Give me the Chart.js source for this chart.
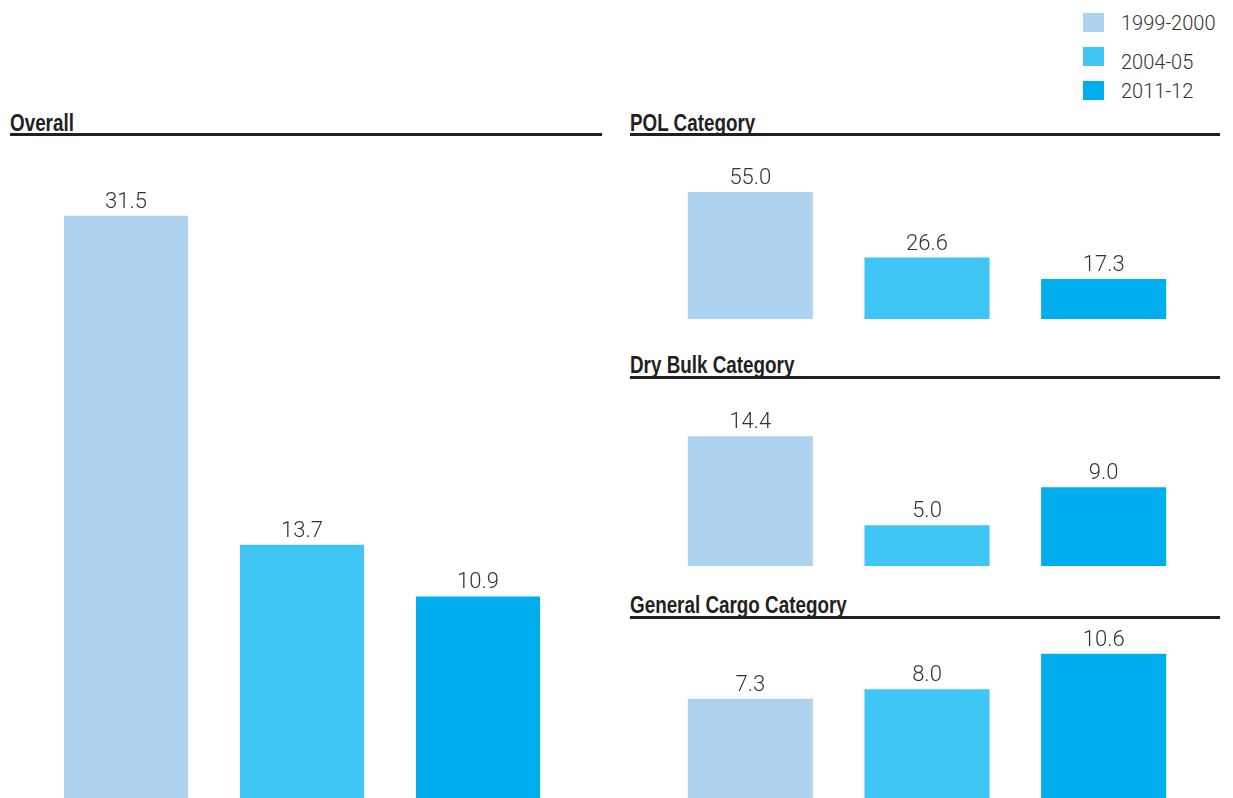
<!DOCTYPE html>
<html>
<head>
<meta charset="utf-8">
<script src="https://cdn.jsdelivr.net/npm/chart.js@4/dist/chart.umd.min.js"></script>
<style>
	body { margin: 0; background: #fff; width: 1233px; height: 798px; overflow: hidden; position: relative; }
	canvas { position: absolute; }
	.title { position: absolute; font-family: "Liberation Sans", sans-serif; font-weight: bold; font-size: 24px; line-height: 24px; color: #231f20; white-space: nowrap; transform: scaleX(0.785); transform-origin: 0 0; }
	.rule { position: absolute; height: 3px; background: #231f20; }
	.swatch { position: absolute; width: 21px; height: 19px; left: 1083px; }
	.legtext { position: absolute; left: 1121px; font-family: Roboto, sans-serif; font-weight: 300; font-size: 20px; line-height: 20px; color: #333; }
</style>
</head>
<body>

<div class="title" style="left:10px; top:111px;">Overall</div>
<div class="rule" style="left:10px; top:133px; width:592px;"></div>
<div class="title" style="left:630px; top:111px;">POL Category</div>
<div class="rule" style="left:630px; top:133px; width:590px;"></div>
<div class="title" style="left:630px; top:353px;">Dry Bulk Category</div>
<div class="rule" style="left:630px; top:376px; width:590px;"></div>
<div class="title" style="left:630px; top:593px;">General Cargo Category</div>
<div class="rule" style="left:630px; top:616px; width:590px;"></div>

<div id="legend"></div>

<canvas id="overall" width="528" height="648" style="left:38px; top:150px;"></canvas>
<canvas id="pol" width="530" height="179" style="left:662px; top:140px;"></canvas>
<canvas id="drybulk" width="530" height="181" style="left:662px; top:385px;"></canvas>
<canvas id="cargo" width="530" height="173" style="left:662px; top:625px;"></canvas>

<script>
var seriesLabels = ['1999-2000', '2004-05', '2011-12'];
var seriesColors = ['#aed3f0', '#40c6f4', '#00aeef'];

var overallValues = [31.5, 13.7, 10.9];
var polValues = [55.0, 26.6, 17.3];
var dryBulkValues = [14.4, 5.0, 9.0];
var generalCargoValues = [7.3, 8.0, 10.6];

// legend rows
var legendTops = [13, 47, 81];
var legendTextTops = [13, 52, 81];
var legend = document.getElementById('legend');
for (var i = 0; i < seriesLabels.length; i++) {
	var sw = document.createElement('div');
	sw.className = 'swatch';
	sw.style.top = legendTops[i] + 'px';
	sw.style.background = seriesColors[i];
	legend.appendChild(sw);
	var tx = document.createElement('div');
	tx.className = 'legtext';
	tx.style.top = legendTextTops[i] + 'px';
	tx.textContent = seriesLabels[i];
	legend.appendChild(tx);
}

var valueLabels = {
	id: 'valueLabels',
	afterDatasetsDraw: function(chart) {
		var ctx = chart.ctx;
		var meta = chart.getDatasetMeta(0);
		var data = chart.data.datasets[0].data;
		ctx.save();
		ctx.font = '300 22px Roboto, sans-serif';
		ctx.fillStyle = '#333';
		ctx.textAlign = 'center';
		ctx.textBaseline = 'alphabetic';
		for (var i = 0; i < meta.data.length; i++) {
			var bar = meta.data[i];
			ctx.fillText(data[i].toFixed(1), bar.x, bar.y - 8);
		}
		ctx.restore();
	}
};

function makePanel(id, values, yMin, yMax, barPct) {
	return new Chart(document.getElementById(id), {
		type: 'bar',
		data: {
			labels: seriesLabels,
			datasets: [{
				data: values,
				backgroundColor: seriesColors,
				borderWidth: 0,
				barPercentage: barPct,
				categoryPercentage: 1
			}]
		},
		options: {
			responsive: false,
			animation: false,
			layout: { padding: 0 },
			plugins: {
				legend: { display: false },
				tooltip: { enabled: false }
			},
			scales: {
				x: { display: false },
				y: { display: false, min: yMin, max: yMax }
			}
		},
		plugins: [valueLabels]
	});
}

makePanel('overall', overallValues, 0, 35.05, 0.705);
makePanel('pol', polValues, 0, 77.5, 0.708);
makePanel('drybulk', dryBulkValues, 0.7, 19.8, 0.708);
makePanel('cargo', generalCargoValues, 0, 12.72, 0.708);
</script>
</body>
</html>
